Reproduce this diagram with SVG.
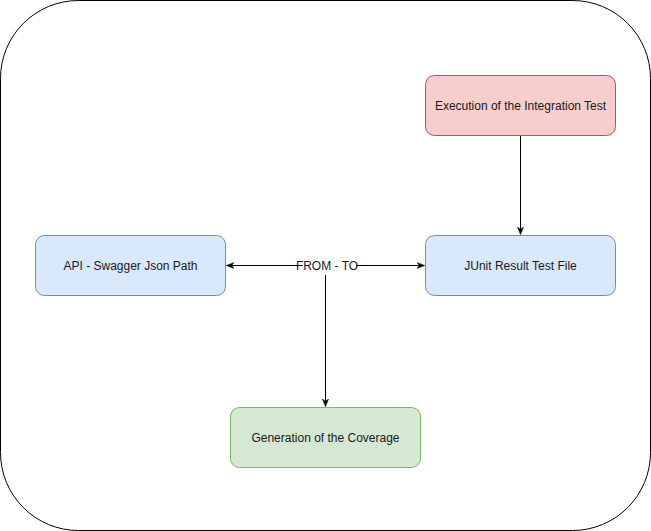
<svg xmlns="http://www.w3.org/2000/svg" width="651" height="531" viewBox="0 0 651 531">
<style>
.n{stroke-width:1}
.t{font-family:"Liberation Sans",Arial,sans-serif;font-size:12px;fill:#1a1a1a;text-anchor:middle;dominant-baseline:central}
.e{stroke:#000;stroke-width:1;fill:none}
</style>
<defs>
<marker id="a" viewBox="0 0 10 10" refX="9" refY="5" markerWidth="8" markerHeight="8" orient="auto-start-reverse" markerUnits="userSpaceOnUse">
<path d="M0,1 L10,5 L0,9 L3,5 Z" fill="#000" stroke="#000" stroke-width="0.5"/>
</marker>
</defs>
<rect width="651" height="531" fill="#fff"/>
<g id="container"><rect x="0.5" y="0.5" width="650" height="530" rx="78" ry="78" fill="#fff" stroke="#000"/></g>
<g id="connectors">
<path class="e" d="M520.5,135.5 V234" marker-end="url(#a)"/>
<path class="e" d="M227,265.5 H424" marker-start="url(#a)" marker-end="url(#a)"/>
<path class="e" d="M325.5,275 V406" marker-end="url(#a)"/>
</g>
<g id="label"><rect x="298" y="259" width="58" height="13" fill="#fff"/><text class="t" x="327" y="265.5">FROM - TO</text></g>
<g id="execution"><rect class="n" x="425.5" y="75.5" width="190" height="60" rx="9" fill="#f8cecc" stroke="#b85450"/><text class="t" x="520.5" y="105.5">Execution of the Integration Test</text></g>
<g id="junit"><rect class="n" x="425.5" y="235.5" width="190" height="60" rx="9" fill="#dae8fc" stroke="#6c8ebf"/><text class="t" x="520.5" y="265.5">JUnit Result Test File</text></g>
<g id="api"><rect class="n" x="35.5" y="235.5" width="190" height="60" rx="9" fill="#dae8fc" stroke="#6c8ebf"/><text class="t" x="130.5" y="265.5">API - Swagger Json Path</text></g>
<g id="generation"><rect class="n" x="230.5" y="407.5" width="190" height="60" rx="9" fill="#d5e8d4" stroke="#82b366"/><text class="t" x="325.5" y="437.5">Generation of the Coverage</text></g>
</svg>
